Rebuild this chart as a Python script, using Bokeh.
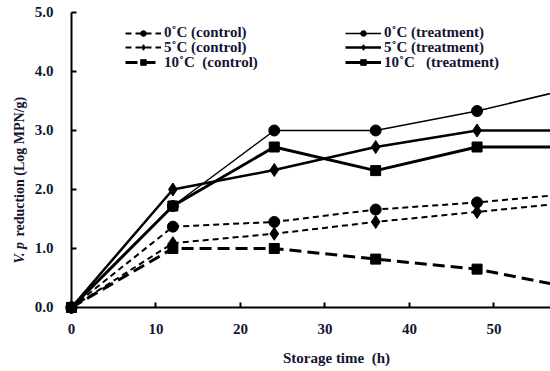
from bokeh.plotting import figure
from bokeh.models import (Range1d, LinearAxis, FixedTicker, Legend, LegendItem,
                          Label, NumeralTickFormatter)
from bokeh.embed import file_html
from bokeh.resources import INLINE

hours = [0, 12, 24, 36, 48, 60]
ctrl_0 = [0.0, 1.37, 1.45, 1.66, 1.78, 1.94]
ctrl_5 = [0.0, 1.09, 1.25, 1.45, 1.62, 1.79]
ctrl_10 = [0.0, 1.0, 1.0, 0.82, 0.65, 0.31]
trt_0 = [0.0, 1.72, 3.0, 3.0, 3.33, 3.74]
trt_5 = [0.0, 2.0, 2.33, 2.72, 3.0, 3.0]
trt_10 = [0.0, 1.72, 2.72, 2.32, 2.72, 2.72]

x_ticks = [0, 10, 20, 30, 40, 50]
y_ticks = [0, 1, 2, 3, 4, 5]

labels_ctrl = ["0\u02daC (control)", "5\u02daC (control)", "10\u02daC\u00a0 (control)"]
labels_trt = ["0\u02daC (treatment)", "5\u02daC (treatment)", "10\u02daC\u00a0\u00a0 (treatment)"]

FONT = "Liberation Serif"
TXT = "#141432"

p = figure(width=550, height=371,
           x_range=Range1d(-8.40, 56.69), y_range=Range1d(-1.085, 5.203),
           output_backend="svg", toolbar_location=None,
           x_axis_location=None, y_axis_location=None,
           min_border_left=0, min_border_right=0,
           min_border_top=0, min_border_bottom=0)
p.outline_line_color = None
p.xgrid.visible = False
p.ygrid.visible = False
p.background_fill_color = "white"
p.border_fill_color = "white"

# axes crossing at the origin
xa = LinearAxis(fixed_location=0, ticker=FixedTicker(ticks=x_ticks), bounds=(0, 60))
ya = LinearAxis(fixed_location=0, ticker=FixedTicker(ticks=y_ticks), bounds=(0, 5),
                formatter=NumeralTickFormatter(format="0.0"))
for ax in (xa, ya):
    ax.axis_line_width = 2
    ax.axis_line_color = "black"
    ax.major_tick_in = 5
    ax.major_tick_out = 0
    ax.major_tick_line_width = 2
    ax.minor_tick_line_color = None
    ax.major_label_text_font = FONT
    ax.major_label_text_font_style = "bold"
    ax.major_label_text_font_size = "15px"
    ax.major_label_text_color = TXT
xa.major_label_standoff = 17
ya.major_label_standoff = 18
p.add_layout(xa, "below")
p.add_layout(ya, "left")

# series
def series(y, dash, lw, marker, msize):
    r_line = p.line(hours, y, line_color="black", line_width=lw, line_dash=dash)
    r_mark = p.scatter(hours, y, marker=marker, size=msize,
                       fill_color="black", line_color="black")
    return [r_line, r_mark]

rc0 = series(ctrl_0, "6 4", 2, "circle", 11)
rc5 = series(ctrl_5, "6 4", 2, "diamond", 13)
rc10 = series(ctrl_10, "12 6", 3, "square", 10)
rt0 = series(trt_0, "solid", 1.5, "circle", 11)
rt5 = series(trt_5, "solid", 2.5, "diamond", 13)
rt10 = series(trt_10, "solid", 3, "square", 10)

def add_legend_row(label, renderers, loc):
    p.add_layout(Legend(items=[LegendItem(label=label, renderers=renderers)],
                        location=loc, orientation="vertical",
                        background_fill_alpha=0, border_line_color=None,
                        padding=0, margin=0, spacing=0,
                        glyph_height=14, glyph_width=36, label_height=14,
                        label_standoff=3,
                        label_text_font=FONT, label_text_font_style="bold",
                        label_text_font_size="15px", label_text_color=TXT))

row_y = [330, 315.5, 300.5]
for lab, rr, yy in zip(labels_ctrl, [rc0, rc5, rc10], row_y):
    add_legend_row(lab, rr, (125, yy))
for lab, rr, yy in zip(labels_trt, [rt0, rt5, rt10], row_y):
    add_legend_row(lab, rr, (345, yy))

# axis titles
p.add_layout(Label(x=336, y=14, x_units="screen", y_units="screen",
                   text="Storage time\u00a0 (h)", text_align="center",
                   text_baseline="middle", text_font=FONT, text_font_style="bold",
                   text_font_size="15px", text_color=TXT))
p.add_layout(Label(x=19, y=108, x_units="screen", y_units="screen", angle=1.5707963,
                   text="V. p", text_align="left", text_baseline="middle",
                   text_font=FONT, text_font_style="bold italic",
                   text_font_size="14px", text_color=TXT))
p.add_layout(Label(x=19, y=135, x_units="screen", y_units="screen", angle=1.5707963,
                   text="reduction (Log MPN/g)", text_align="left", text_baseline="middle",
                   text_font=FONT, text_font_style="bold",
                   text_font_size="14px", text_color=TXT))

open("out.html", "w").write(file_html(p, INLINE))
